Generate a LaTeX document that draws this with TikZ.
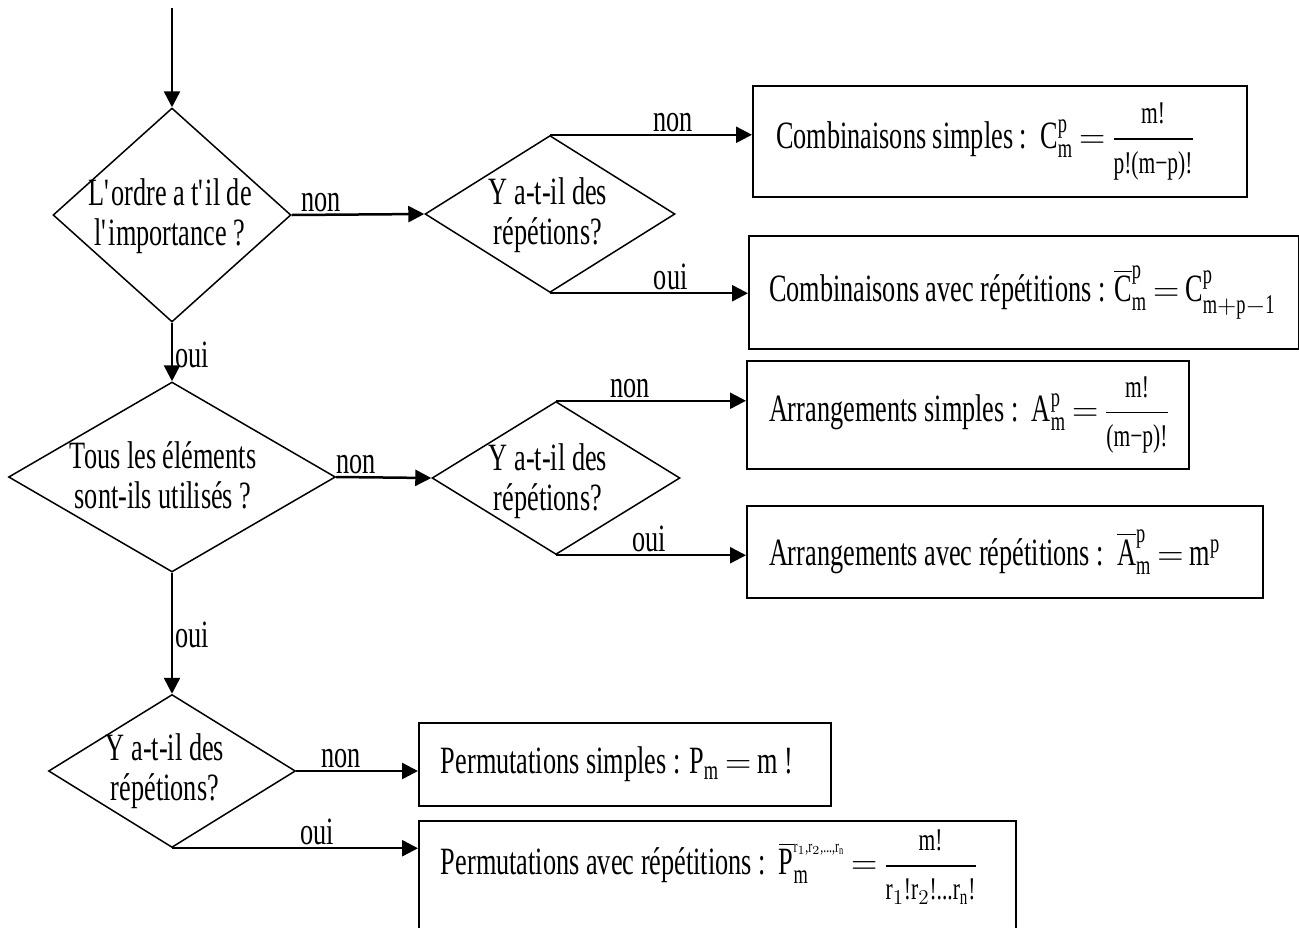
\documentclass[tikz,border=0pt]{standalone}
\usepackage{amsmath}
\usepackage{fontspec}
\setmainfont{Liberation Serif}[FakeStretch=0.68]
\usetikzlibrary{shapes.geometric,arrows.meta,positioning,calc}

\newcommand{\rmm}[1]{\text{#1}}
\newcommand{\fracsize}{\fontsize{18}{18}\selectfont}
\newcommand{\ratio}[2]{\dfrac{\text{\fracsize #1}}{\text{\fracsize #2}}}
\newcommand{\boxline}[2]{\makebox[#1][l]{#2}}

\begin{document}
\begin{tikzpicture}[
    x=0.02cm, y=-0.02cm,
    every node/.style={font=\fontsize{22}{22.8}\selectfont},
    decision/.style={diamond, draw=black, line width=0.03cm, inner sep=0pt},
    qtext/.style={align=center, inner sep=0pt},
    formula/.style={rectangle, draw=black, line width=0.04cm, anchor=north west, inner ysep=0pt},
    arrow/.style={line width=0.05cm, -{Triangle[length=0.32cm, width=0.32cm]}},
    answer/.style={inner sep=1pt}
]
    \useasboundingbox (0,0) rectangle (1299,927);

    % Decision diamonds down the left side
    \coordinate (entry) at (172,8);
    \node[decision, minimum width=4.76cm, minimum height=4.28cm] (q_order) at (172,215) {};
    \node[decision, minimum width=5.00cm, minimum height=3.14cm] (q_rep1)  at (550,214) {};
    \node[decision, minimum width=6.54cm, minimum height=3.80cm] (q_used)  at (172,477) {};
    \node[decision, minimum width=4.96cm, minimum height=3.06cm] (q_rep2)  at (556,478) {};
    \node[decision, minimum width=4.94cm, minimum height=3.06cm] (q_rep3)  at (172,771) {};

    \node[qtext] (t_order) at (170,216) {L\textquotesingle ordre a t\textquotesingle il de\\l\textquotesingle importance ?};
    \node[qtext] (t_rep1)  at (548,215) {Y a-t-il des\\répétions?};
    \node[qtext] (t_used)  at (163,475) {Tous les éléments\\sont-ils utilisés ?};
    \node[qtext] (t_rep2)  at (548,481) {Y a-t-il des\\répétions?};
    \node[qtext] (t_rep3)  at (165,771) {Y a-t-il des\\répétions?};

    % Result boxes with the formulas
    \node[formula, minimum width=9.88cm, minimum height=2.22cm, inner xsep=0.46cm] (b_csimple) at (752,85)
        {\boxline{8.96cm}{Combinaisons simples :\ \ $\rmm{C}^{\rmm{p}}_{\rmm{m}} \,{=}\, \ratio{m!}{p!(m−p)!}$}};
    \node[formula, minimum width=11.00cm, minimum height=2.26cm, inner xsep=0.40cm] (b_crep) at (748,235)
        {\boxline{10.20cm}{Combinaisons avec répétitions : $\overline{\rmm{C}}^{\rmm{p}}_{\rmm{m}} \,{=}\, \rmm{C}^{\rmm{p}}_{\rmm{m}+\rmm{p}-\rmm{1}}$}};
    \node[formula, minimum width=8.84cm, minimum height=2.16cm, inner xsep=0.44cm] (b_asimple) at (746,360)
        {\boxline{7.96cm}{Arrangements simples :\ \ $\rmm{A}^{\rmm{p}}_{\rmm{m}} \,{=}\, \ratio{m!}{(m−p)!}$}};
    \node[formula, minimum width=10.32cm, minimum height=1.84cm, inner xsep=0.44cm] (b_arep) at (746,505)
        {\boxline{9.44cm}{Arrangements avec répétitions :\ \ $\overline{\rmm{A}}^{\rmm{p}}_{\rmm{m}} \,{=}\, \rmm{m}^{\rmm{p}}$}};
    \node[formula, minimum width=8.24cm, minimum height=1.66cm, inner xsep=0.44cm] (b_psimple) at (418,722)
        {\boxline{7.36cm}{Permutations simples : $\rmm{P}_{\rmm{m}} \,{=}\, \rmm{m !}$}};
    \node[formula, minimum width=11.94cm, minimum height=2.40cm, inner xsep=0.44cm, text depth=1.15cm] (b_prep) at (418,820)
        {\boxline{11.06cm}{Permutations avec répétitions :\ \ $\overline{\rmm{P}}^{\text{\fontsize{10}{10}\selectfont r$_1$,r$_2$,...,r$_\text{n}$}}_{\rmm{m}} \,{=}\, \ratio{m!}{r$_1$!r$_2$!...r$_\text{n}$!}$}};

    % Connectors
    \draw[arrow] (entry) -- (q_order.north);
    \draw[arrow] (q_order.east) -- node[answer, above, pos=0.22] {non} (q_rep1.west);
    \draw[arrow] (q_rep1.north) -- node[answer, above, pos=0.61] {non} (q_rep1.north -| b_csimple.west);
    \draw[arrow] (q_rep1.south) -- node[answer, above, pos=0.61] {oui} (q_rep1.south -| b_crep.west);
    \draw[arrow] (q_order.south) -- node[answer, right, pos=0.55] {oui} (q_used.north);

    \draw[arrow] (q_used.east) -- node[answer, above, pos=0.21] {non} (q_rep2.west);
    \draw[arrow] (q_rep2.north) -- node[answer, above, pos=0.39] {non} (q_rep2.north -| b_asimple.west);
    \draw[arrow] (q_rep2.south) -- node[answer, above, pos=0.49] {oui} (q_rep2.south -| b_arep.west);
    \draw[arrow] (q_used.south) -- node[answer, right, pos=0.51] {oui} (q_rep3.north);

    \draw[arrow] (q_rep3.east) -- node[answer, above, pos=0.37] {non} (q_rep3.east -| b_psimple.west);
    \draw[arrow] (q_rep3.south) -- node[answer, above, pos=0.59] {oui} (q_rep3.south -| b_prep.west);
\end{tikzpicture}
\end{document}
